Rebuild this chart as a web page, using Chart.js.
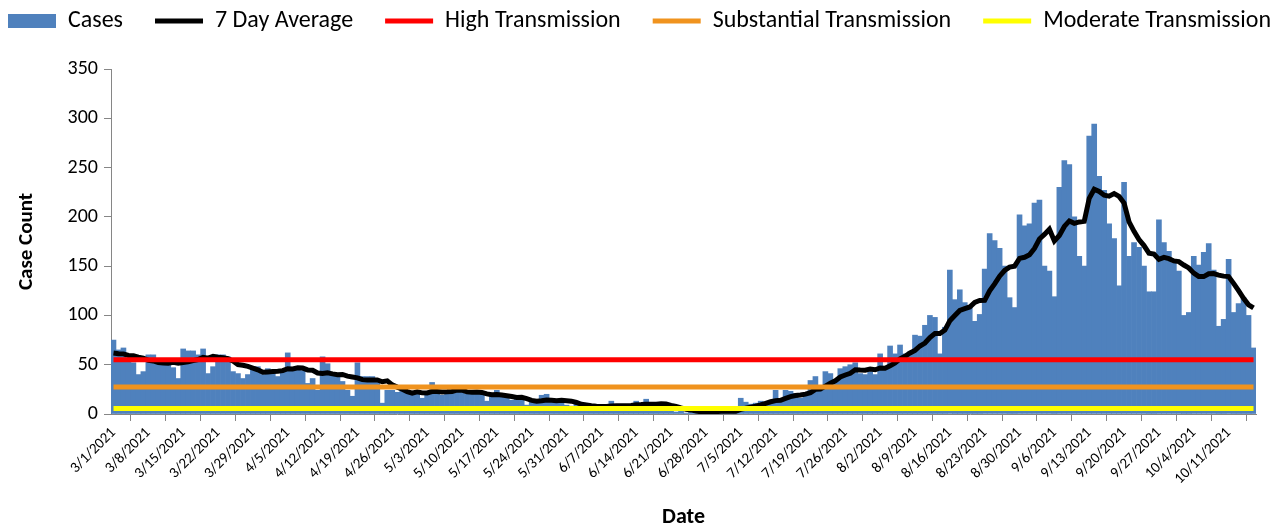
<!DOCTYPE html>
<html>
<head>
<meta charset="utf-8">
<script src="https://cdn.jsdelivr.net/npm/chart.js@4/dist/chart.umd.min.js"></script>
<style>
  html, body { margin: 0; padding: 0; background: #fff; }
  #wrap { width: 1283px; height: 529px; }
</style>
</head>
<body>
<div id="wrap"><canvas id="chart"></canvas></div>
<script>
const fontFamily = 'Carlito, Lato, sans-serif'

// daily cases, one row per week starting 3/1/2021
const cases = [
    75, 65, 67, 55, 52, 40, 43,
    60, 60, 55, 52, 50, 47, 36,
    66, 64, 64, 60, 66, 41, 48,
    60, 60, 58, 43, 41, 36, 40,
    48, 48, 40, 46, 44, 38, 44,
    62, 46, 48, 44, 31, 36, 24,
    58, 51, 41, 38, 33, 24, 18,
    52, 38, 38, 38, 34, 11, 24,
    24, 22, 23, 21, 23, 21, 16,
    23, 32, 23, 19, 24, 23, 25,
    23, 20, 21, 20, 21, 13, 19,
    24, 17, 16, 14, 15, 14, 9,
    12, 11, 19, 20, 13, 11, 11,
    9, 8, 10, 7, 8, 6, 7,
    7, 8, 13, 9, 8, 7, 8,
    13, 9, 15, 10, 8, 9, 7,
    3, 2, 4, 1, 3, 1, 2,
    3, 4, 2, 5, 3, 1, 2,
    16, 12, 10, 11, 13, 12, 13,
    24, 14, 24, 23, 21, 16, 19,
    34, 38, 27, 43, 41, 34, 46,
    48, 50, 52, 41, 40, 43, 40,
    61, 48, 69, 61, 70, 61, 63,
    80, 79, 90, 100, 98, 61, 88,
    146, 116, 126, 113, 110, 94, 101,
    147, 183, 176, 168, 150, 118, 108,
    202, 191, 193, 214, 217, 150, 145,
    119, 230, 257, 253, 200, 160, 150,
    282, 294, 241, 227, 193, 178, 130,
    235, 160, 174, 169, 150, 124, 124,
    197, 174, 165, 153, 145, 100, 103,
    160, 151, 164, 173, 146, 89, 96,
    157, 103, 112, 118, 100, 67
]
// 2/23 - 2/28, only used so the average starts on 3/1
const priorCases = [70, 68, 66, 55, 50, 49]

const highLevel = 55
const substantialLevel = 27.5
const moderateLevel = 5.5

const tickLabels = [
    '3/1/2021', '3/8/2021', '3/15/2021', '3/22/2021', '3/29/2021',
    '4/5/2021', '4/12/2021', '4/19/2021', '4/26/2021',
    '5/3/2021', '5/10/2021', '5/17/2021', '5/24/2021', '5/31/2021',
    '6/7/2021', '6/14/2021', '6/21/2021', '6/28/2021',
    '7/5/2021', '7/12/2021', '7/19/2021', '7/26/2021',
    '8/2/2021', '8/9/2021', '8/16/2021', '8/23/2021', '8/30/2021',
    '9/6/2021', '9/13/2021', '9/20/2021', '9/27/2021',
    '10/4/2021', '10/11/2021'
]

const days = cases.map((c, i) => {
    const d = new Date(Date.UTC(2021, 2, 1 + i))
    return `${d.getUTCMonth() + 1}/${d.getUTCDate()}/${d.getUTCFullYear()}`
})

const sevenDay = () => {
    const all = priorCases.concat(cases)
    return cases.map((c, i) => {
        const win = all.slice(i, i + 7)
        return win.reduce((s, v) => s + v, 0) / 7
    })
}

const flat = value => cases.map(() => value)

const lineSet = (label, data, color, order) => ({
    type: 'line',
    label: label,
    data: data,
    borderColor: color,
    backgroundColor: color,
    borderWidth: 5,
    pointRadius: 0,
    pointStyle: 'line',
    tension: 0,
    order: order
})

// one wide legend row starting at x=8, plot pushed down to y=69
const legendFit = {
    id: 'legendFit',
    beforeInit(chart) {
        const legend = chart.legend
        const fit = legend.fit
        const draw = legend.draw
        legend.fit = function () {
            const w = this.maxWidth
            this.maxWidth = 3000
            fit.call(this)
            this.maxWidth = w
            this.width = w
            this.height = 92
        }
        legend.draw = function () {
            const l = this.left
            const r = this.right
            this.left = 8 - this.options.labels.padding
            this.right = 5000
            draw.call(this)
            this.left = l
            this.right = r
        }
    }
}

const axisGrey = '#868686'
const ctx = document.getElementById('chart')
const myChart = new Chart(ctx, {
    type: 'bar',
    data: {
        labels: days,
        datasets: [
            {
                label: 'Cases',
                data: cases,
                backgroundColor: '#4f81bd',
                borderWidth: 0,
                barPercentage: 1,
                categoryPercentage: 1,
                pointStyle: 'rect',
                order: 5
            },
            lineSet('7 Day Average', sevenDay(), '#000000', 4),
            lineSet('High Transmission', flat(highLevel), '#ff0000', 3),
            lineSet('Substantial Transmission', flat(substantialLevel), '#f0931e', 2),
            lineSet('Moderate Transmission', flat(moderateLevel), '#ffff00', 1)
        ]
    },
    plugins: [legendFit],
    options: {
        responsive: true,
        maintainAspectRatio: false,
        animation: false,
        layout: { padding: { top: -23, right: 0, bottom: 0, left: 0 } },
        plugins: {
            tooltip: { enabled: false },
            legend: {
                position: 'top',
                align: 'start',
                labels: {
                    usePointStyle: true,
                    pointStyleWidth: 48,
                    boxHeight: 14,
                    padding: 32,
                    color: '#000',
                    font: { family: fontFamily, size: 24 },
                    sort: (a, b) => a.datasetIndex - b.datasetIndex
                }
            }
        },
        scales: {
            x: {
                offset: true,
                grid: { drawOnChartArea: false, tickLength: 7, color: axisGrey },
                border: { color: axisGrey },
                ticks: {
                    autoSkip: false,
                    minRotation: 45,
                    maxRotation: 45,
                    color: '#000',
                    font: { family: fontFamily, size: 15 },
                    callback: function (val, i) {
                        return i % 7 === 0 ? tickLabels[i / 7] : null
                    }
                },
                title: {
                    display: true,
                    text: 'Date',
                    color: '#000',
                    font: { family: fontFamily, size: 22, weight: 'bold' },
                    padding: { top: 14, bottom: -2 }
                },
                afterFit: scale => { scale.height = 115 }
            },
            y: {
                min: 0,
                max: 350,
                grid: { drawOnChartArea: false, tickLength: 7, color: axisGrey },
                border: { color: axisGrey },
                ticks: {
                    stepSize: 50,
                    padding: 6,
                    color: '#000',
                    font: { family: fontFamily, size: 20 }
                },
                title: {
                    display: true,
                    text: 'Case Count',
                    color: '#000',
                    font: { family: fontFamily, size: 21, weight: 'bold' },
                    padding: { top: 14, bottom: 0 }
                },
                afterFit: scale => { scale.width = 111 }
            },
            // empty strip so the plot stops short of the right edge
            yRight: {
                position: 'right',
                grid: { display: false },
                border: { display: false },
                ticks: { display: false },
                afterFit: scale => { scale.width = 27 }
            }
        }
    }
})
</script>
</body>
</html>
